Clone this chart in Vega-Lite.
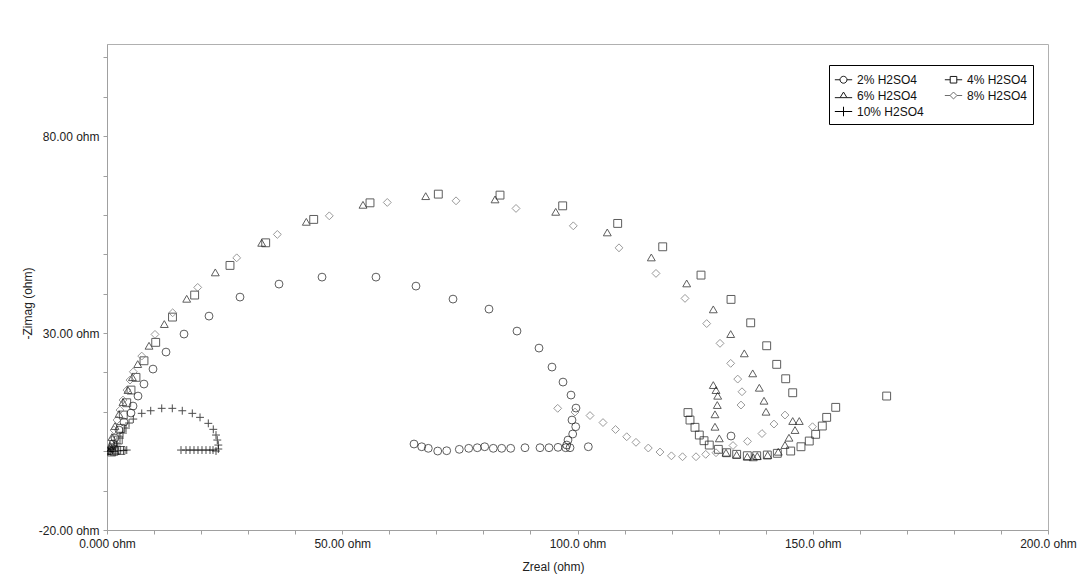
{
  "$schema": "https://vega.github.io/schema/vega-lite/v6.json",
  "width": 941,
  "height": 486,
  "autosize": "none",
  "padding": {"left": 107, "top": 44, "right": 29, "bottom": 44},
  "background": "white",
  "config": {
    "font": "Liberation Sans",
    "view": {"stroke": "#b0b0b0", "strokeWidth": 1}
  },
  "datasets": {
    "pts": [
      {"series":"2% H2SO4","zreal":0.6,"zimag":0.2},{"series":"2% H2SO4","zreal":1.06,"zimag":0.81},{"series":"2% H2SO4","zreal":1.28,"zimag":1.83},{"series":"2% H2SO4","zreal":1.70,"zimag":3.35},{"series":"2% H2SO4","zreal":2.55,"zimag":5.38},{"series":"2% H2SO4","zreal":3.61,"zimag":7.41},{"series":"2% H2SO4","zreal":5.10,"zimag":9.70},{"series":"2% H2SO4","zreal":5.53,"zimag":11.47},{"series":"2% H2SO4","zreal":6.59,"zimag":14.01},{"series":"2% H2SO4","zreal":7.86,"zimag":17.06},{"series":"2% H2SO4","zreal":9.78,"zimag":20.86},{"series":"2% H2SO4","zreal":12.54,"zimag":25.18},{"series":"2% H2SO4","zreal":16.37,"zimag":29.75},{"series":"2% H2SO4","zreal":21.68,"zimag":34.31},{"series":"2% H2SO4","zreal":28.27,"zimag":39.14},{"series":"2% H2SO4","zreal":36.56,"zimag":42.44},{"series":"2% H2SO4","zreal":45.70,"zimag":44.21},{"series":"2% H2SO4","zreal":57.17,"zimag":44.21},{"series":"2% H2SO4","zreal":65.67,"zimag":41.93},{"series":"2% H2SO4","zreal":73.54,"zimag":38.63},{"series":"2% H2SO4","zreal":81.19,"zimag":36.09},{"series":"2% H2SO4","zreal":87.14,"zimag":30.51},{"series":"2% H2SO4","zreal":91.82,"zimag":26.19},{"series":"2% H2SO4","zreal":94.58,"zimag":21.37},{"series":"2% H2SO4","zreal":96.92,"zimag":17.56},{"series":"2% H2SO4","zreal":98.62,"zimag":14.26},{"series":"2% H2SO4","zreal":99.68,"zimag":10.96},{"series":"2% H2SO4","zreal":98.83,"zimag":7.92},{"series":"2% H2SO4","zreal":99.62,"zimag":6.22},{"series":"2% H2SO4","zreal":98.98,"zimag":4.37},{"series":"2% H2SO4","zreal":97.98,"zimag":2.84},{"series":"2% H2SO4","zreal":97.71,"zimag":1.57},{"series":"2% H2SO4","zreal":98.41,"zimag":0.89},{"series":"2% H2SO4","zreal":97.49,"zimag":0.89},{"series":"2% H2SO4","zreal":95.86,"zimag":0.99},{"series":"2% H2SO4","zreal":93.94,"zimag":0.89},{"series":"2% H2SO4","zreal":92.03,"zimag":0.89},{"series":"2% H2SO4","zreal":88.84,"zimag":0.89},{"series":"2% H2SO4","zreal":85.80,"zimag":0.74},{"series":"2% H2SO4","zreal":83.89,"zimag":0.74},{"series":"2% H2SO4","zreal":82.10,"zimag":0.74},{"series":"2% H2SO4","zreal":80.28,"zimag":1.14},{"series":"2% H2SO4","zreal":78.70,"zimag":0.89},{"series":"2% H2SO4","zreal":76.88,"zimag":0.74},{"series":"2% H2SO4","zreal":74.88,"zimag":0.48},{"series":"2% H2SO4","zreal":72.20,"zimag":0.13},{"series":"2% H2SO4","zreal":70.29,"zimag":0.05},{"series":"2% H2SO4","zreal":68.29,"zimag":0.74},{"series":"2% H2SO4","zreal":66.89,"zimag":1.14},{"series":"2% H2SO4","zreal":65.25,"zimag":1.83},{"series":"2% H2SO4","zreal":102.30,"zimag":1.14},{"series":"2% H2SO4","zreal":132.63,"zimag":3.86},

      {"series":"4% H2SO4","zreal":1.0,"zimag":-0.2},{"series":"4% H2SO4","zreal":1.5,"zimag":0.0},{"series":"4% H2SO4","zreal":3.0,"zimag":0.2},{"series":"4% H2SO4","zreal":2.06,"zimag":0.30},{"series":"4% H2SO4","zreal":2.40,"zimag":2.84},{"series":"4% H2SO4","zreal":2.91,"zimag":5.81},{"series":"4% H2SO4","zreal":3.46,"zimag":9.19},{"series":"4% H2SO4","zreal":4.19,"zimag":12.31},{"series":"4% H2SO4","zreal":5.10,"zimag":15.53},{"series":"4% H2SO4","zreal":6.16,"zimag":18.76},{"series":"4% H2SO4","zreal":7.86,"zimag":22.97},{"series":"4% H2SO4","zreal":10.35,"zimag":27.64},{"series":"4% H2SO4","zreal":13.92,"zimag":34.06},{"series":"4% H2SO4","zreal":18.63,"zimag":39.65},{"series":"4% H2SO4","zreal":26.14,"zimag":47.18},{"series":"4% H2SO4","zreal":33.73,"zimag":52.92},{"series":"4% H2SO4","zreal":43.93,"zimag":58.86},{"series":"4% H2SO4","zreal":55.90,"zimag":63.07},{"series":"4% H2SO4","zreal":70.42,"zimag":65.28},{"series":"4% H2SO4","zreal":83.53,"zimag":65.03},{"series":"4% H2SO4","zreal":96.85,"zimag":62.31},{"series":"4% H2SO4","zreal":108.54,"zimag":57.84},{"series":"4% H2SO4","zreal":118.11,"zimag":51.91},{"series":"4% H2SO4","zreal":126.25,"zimag":44.72},{"series":"4% H2SO4","zreal":132.63,"zimag":38.55},{"series":"4% H2SO4","zreal":136.81,"zimag":32.61},{"series":"4% H2SO4","zreal":140.21,"zimag":26.78},{"series":"4% H2SO4","zreal":142.34,"zimag":22.06},{"series":"4% H2SO4","zreal":144.25,"zimag":18.40},{"series":"4% H2SO4","zreal":145.74,"zimag":14.85},{"series":"4% H2SO4","zreal":165.71,"zimag":14.01},{"series":"4% H2SO4","zreal":154.88,"zimag":11.14},{"series":"4% H2SO4","zreal":152.96,"zimag":8.60},{"series":"4% H2SO4","zreal":152.03,"zimag":6.40},{"series":"4% H2SO4","zreal":150.62,"zimag":4.29},{"series":"4% H2SO4","zreal":149.26,"zimag":2.59},{"series":"4% H2SO4","zreal":147.50,"zimag":1.14},{"series":"4% H2SO4","zreal":145.31,"zimag":0.05},{"series":"4% H2SO4","zreal":142.47,"zimag":-0.53},{"series":"4% H2SO4","zreal":140.34,"zimag":-0.96},{"series":"4% H2SO4","zreal":138.09,"zimag":-1.14},{"series":"4% H2SO4","zreal":136.09,"zimag":-1.14},{"series":"4% H2SO4","zreal":133.83,"zimag":-0.79},{"series":"4% H2SO4","zreal":131.71,"zimag":-0.38},{"series":"4% H2SO4","zreal":129.93,"zimag":0.48},{"series":"4% H2SO4","zreal":128.01,"zimag":1.57},{"series":"4% H2SO4","zreal":126.89,"zimag":2.67},{"series":"4% H2SO4","zreal":125.89,"zimag":4.11},{"series":"4% H2SO4","zreal":124.97,"zimag":6.07},{"series":"4% H2SO4","zreal":123.91,"zimag":7.92},{"series":"4% H2SO4","zreal":123.48,"zimag":9.82},

      {"series":"6% H2SO4","zreal":0.43,"zimag":0.05},{"series":"6% H2SO4","zreal":0.64,"zimag":1.32},{"series":"6% H2SO4","zreal":1.06,"zimag":3.60},{"series":"6% H2SO4","zreal":1.70,"zimag":6.40},{"series":"6% H2SO4","zreal":2.55,"zimag":9.44},{"series":"6% H2SO4","zreal":3.40,"zimag":12.49},{"series":"6% H2SO4","zreal":4.46,"zimag":15.53},{"series":"6% H2SO4","zreal":5.40,"zimag":18.80},{"series":"6% H2SO4","zreal":6.53,"zimag":22.13},{"series":"6% H2SO4","zreal":8.93,"zimag":26.78},{"series":"6% H2SO4","zreal":12.18,"zimag":32.29},{"series":"6% H2SO4","zreal":16.94,"zimag":38.71},{"series":"6% H2SO4","zreal":23.02,"zimag":45.41},{"series":"6% H2SO4","zreal":32.88,"zimag":52.92},{"series":"6% H2SO4","zreal":42.36,"zimag":58.25},{"series":"6% H2SO4","zreal":54.41,"zimag":62.57},{"series":"6% H2SO4","zreal":67.74,"zimag":64.77},{"series":"6% H2SO4","zreal":82.47,"zimag":63.94},{"series":"6% H2SO4","zreal":95.37,"zimag":60.79},{"series":"6% H2SO4","zreal":106.33,"zimag":55.56},{"series":"6% H2SO4","zreal":115.69,"zimag":49.21},{"series":"6% H2SO4","zreal":123.21,"zimag":42.61},{"series":"6% H2SO4","zreal":128.86,"zimag":36.02},{"series":"6% H2SO4","zreal":132.56,"zimag":29.75},{"series":"6% H2SO4","zreal":135.45,"zimag":24.85},{"series":"6% H2SO4","zreal":137.24,"zimag":19.77},{"series":"6% H2SO4","zreal":138.64,"zimag":16.12},{"series":"6% H2SO4","zreal":139.64,"zimag":12.82},{"series":"6% H2SO4","zreal":140.07,"zimag":10.03},{"series":"6% H2SO4","zreal":128.86,"zimag":16.80},{"series":"6% H2SO4","zreal":129.44,"zimag":15.53},{"series":"6% H2SO4","zreal":129.80,"zimag":14.09},{"series":"6% H2SO4","zreal":129.71,"zimag":11.73},{"series":"6% H2SO4","zreal":129.22,"zimag":9.37},{"series":"6% H2SO4","zreal":129.22,"zimag":6.22},{"series":"6% H2SO4","zreal":130.14,"zimag":3.27},{"series":"6% H2SO4","zreal":131.56,"zimag":-0.38},{"series":"6% H2SO4","zreal":133.83,"zimag":-0.89},{"series":"6% H2SO4","zreal":136.09,"zimag":-1.40},{"series":"6% H2SO4","zreal":137.36,"zimag":-1.55},{"series":"6% H2SO4","zreal":138.21,"zimag":-1.22},{"series":"6% H2SO4","zreal":140.42,"zimag":-0.96},{"series":"6% H2SO4","zreal":142.67,"zimag":-0.13},{"series":"6% H2SO4","zreal":144.10,"zimag":1.57},{"series":"6% H2SO4","zreal":144.95,"zimag":3.43},{"series":"6% H2SO4","zreal":146.23,"zimag":5.38},{"series":"6% H2SO4","zreal":145.74,"zimag":7.67},{"series":"6% H2SO4","zreal":147.14,"zimag":7.67},

      {"series":"8% H2SO4","zreal":0.64,"zimag":0.81},{"series":"8% H2SO4","zreal":1.06,"zimag":2.84},{"series":"8% H2SO4","zreal":1.49,"zimag":5.38},{"series":"8% H2SO4","zreal":2.13,"zimag":7.92},{"series":"8% H2SO4","zreal":2.76,"zimag":10.46},{"series":"8% H2SO4","zreal":3.40,"zimag":13.0},{"series":"8% H2SO4","zreal":4.25,"zimag":15.53},{"series":"8% H2SO4","zreal":4.89,"zimag":18.07},{"series":"8% H2SO4","zreal":5.59,"zimag":20.18},{"series":"8% H2SO4","zreal":7.38,"zimag":24.16},{"series":"8% H2SO4","zreal":10.20,"zimag":29.67},{"series":"8% H2SO4","zreal":13.96,"zimag":35.15},{"series":"8% H2SO4","zreal":19.28,"zimag":41.60},{"series":"8% H2SO4","zreal":27.57,"zimag":49.11},{"series":"8% H2SO4","zreal":36.20,"zimag":55.05},{"series":"8% H2SO4","zreal":47.25,"zimag":59.77},{"series":"8% H2SO4","zreal":59.57,"zimag":63.17},{"series":"8% H2SO4","zreal":74.18,"zimag":63.58},{"series":"8% H2SO4","zreal":86.93,"zimag":61.65},{"series":"8% H2SO4","zreal":99.11,"zimag":57.23},{"series":"8% H2SO4","zreal":108.82,"zimag":51.65},{"series":"8% H2SO4","zreal":116.68,"zimag":45.15},{"series":"8% H2SO4","zreal":122.85,"zimag":38.81},{"series":"8% H2SO4","zreal":127.46,"zimag":32.41},{"series":"8% H2SO4","zreal":130.29,"zimag":27.39},{"series":"8% H2SO4","zreal":132.56,"zimag":22.31},{"series":"8% H2SO4","zreal":134.05,"zimag":18.32},{"series":"8% H2SO4","zreal":134.96,"zimag":15.10},{"series":"8% H2SO4","zreal":134.75,"zimag":11.73},{"series":"8% H2SO4","zreal":144.10,"zimag":9.19},{"series":"8% H2SO4","zreal":141.76,"zimag":6.90},{"series":"8% H2SO4","zreal":149.95,"zimag":6.22},{"series":"8% H2SO4","zreal":139.21,"zimag":4.49},{"series":"8% H2SO4","zreal":136.13,"zimag":2.51},{"series":"8% H2SO4","zreal":133.05,"zimag":1.45},{"series":"8% H2SO4","zreal":129.44,"zimag":-0.38},{"series":"8% H2SO4","zreal":127.25,"zimag":-0.79},{"series":"8% H2SO4","zreal":125.19,"zimag":-1.40},{"series":"8% H2SO4","zreal":122.32,"zimag":-1.40},{"series":"8% H2SO4","zreal":119.96,"zimag":-1.17},{"series":"8% H2SO4","zreal":117.53,"zimag":-0.20},{"series":"8% H2SO4","zreal":115.05,"zimag":0.81},{"series":"8% H2SO4","zreal":112.43,"zimag":2.26},{"series":"8% H2SO4","zreal":110.46,"zimag":3.68},{"series":"8% H2SO4","zreal":108.08,"zimag":5.51},{"series":"8% H2SO4","zreal":105.42,"zimag":7.28},{"series":"8% H2SO4","zreal":102.66,"zimag":9.06},{"series":"8% H2SO4","zreal":99.47,"zimag":9.95},{"series":"8% H2SO4","zreal":95.79,"zimag":10.89},

      {"series":"10% H2SO4","zreal":0.3,"zimag":0.0},{"series":"10% H2SO4","zreal":1.5,"zimag":-0.1},{"series":"10% H2SO4","zreal":2.5,"zimag":0.1},{"series":"10% H2SO4","zreal":3.5,"zimag":0.2},{"series":"10% H2SO4","zreal":4.2,"zimag":0.3},{"series":"10% H2SO4","zreal":0.64,"zimag":0.05},{"series":"10% H2SO4","zreal":1.06,"zimag":0.56},{"series":"10% H2SO4","zreal":1.49,"zimag":1.32},{"series":"10% H2SO4","zreal":2.13,"zimag":2.08},{"series":"10% H2SO4","zreal":2.76,"zimag":3.35},{"series":"10% H2SO4","zreal":3.40,"zimag":4.62},{"series":"10% H2SO4","zreal":4.04,"zimag":5.89},{"series":"10% H2SO4","zreal":4.68,"zimag":7.16},{"series":"10% H2SO4","zreal":5.59,"zimag":8.17},{"series":"10% H2SO4","zreal":7.38,"zimag":9.62},{"series":"10% H2SO4","zreal":9.29,"zimag":10.28},{"series":"10% H2SO4","zreal":11.63,"zimag":10.89},{"series":"10% H2SO4","zreal":13.88,"zimag":10.89},{"series":"10% H2SO4","zreal":16.00,"zimag":10.28},{"series":"10% H2SO4","zreal":18.13,"zimag":9.62},{"series":"10% H2SO4","zreal":19.77,"zimag":8.60},{"series":"10% H2SO4","zreal":21.53,"zimag":7.08},{"series":"10% H2SO4","zreal":22.59,"zimag":5.56},{"series":"10% H2SO4","zreal":23.17,"zimag":4.11},{"series":"10% H2SO4","zreal":23.44,"zimag":2.84},{"series":"10% H2SO4","zreal":23.66,"zimag":1.57},{"series":"10% H2SO4","zreal":23.66,"zimag":0.56},{"series":"10% H2SO4","zreal":23.17,"zimag":0.05},{"series":"10% H2SO4","zreal":15.73,"zimag":0.3},{"series":"10% H2SO4","zreal":16.79,"zimag":0.3},{"series":"10% H2SO4","zreal":17.64,"zimag":0.3},{"series":"10% H2SO4","zreal":18.49,"zimag":0.3},{"series":"10% H2SO4","zreal":19.34,"zimag":0.3},{"series":"10% H2SO4","zreal":20.19,"zimag":0.3},{"series":"10% H2SO4","zreal":21.04,"zimag":0.3},{"series":"10% H2SO4","zreal":21.89,"zimag":0.3},{"series":"10% H2SO4","zreal":22.53,"zimag":0.3}
    ]
  },
  "data": {"name": "pts"},
  "encoding": {
    "x": {
      "field": "zreal", "type": "quantitative",
      "scale": {"domain": [0, 200], "nice": false, "zero": false},
      "axis": {
        "title": "Zreal (ohm)",
        "values": [0,10,20,30,40,50,60,70,80,90,100,110,120,130,140,150,160,170,180,190,200],
        "labelExpr": "datum.value == 0 ? '0.000 ohm' : datum.value % 50 == 0 ? format(datum.value, '.4r') + ' ohm' : ''",
        "labelFlush": false, "labelOverlap": false,
        "grid": false, "tickSize": 4, "tickColor": "#a0a0a0", "domainColor": "#a0a0a0",
        "labelFont": "Liberation Sans", "labelFontSize": 12, "labelColor": "#222222", "labelPadding": 4,
        "titleFont": "Liberation Sans", "titleFontSize": 12, "titleFontWeight": "normal", "titleColor": "#222222",
        "titleX": 446, "titleY": 36, "titleBaseline": "middle", "titleAnchor": null, "titleAlign": "center"
      }
    },
    "y": {
      "field": "zimag", "type": "quantitative",
      "scale": {"domain": [-20, 103.4], "nice": false, "zero": false},
      "axis": {
        "title": "-Zimag (ohm)",
        "values": [-20,-10,0,10,20,30,40,50,60,70,80,90,100],
        "labelExpr": "(datum.value + 20) % 50 == 0 ? replace(format(datum.value, '.2f'), '\u2212', '-') + ' ohm' : ''",
        "labelFlush": false, "labelOverlap": false,
        "grid": false, "tickSize": 4, "tickColor": "#a0a0a0", "domainColor": "#a0a0a0",
        "labelFont": "Liberation Sans", "labelFontSize": 12, "labelColor": "#222222", "labelPadding": 4,
        "titleFont": "Liberation Sans", "titleFontSize": 12, "titleFontWeight": "normal", "titleColor": "#222222",
        "titleX": -80, "titleY": 259, "titleAngle": 270, "titleBaseline": "middle", "titleAlign": "center", "titleAnchor": null
      }
    }
  },
  "layer": [
    {
      "mark": {"type": "point", "filled": false, "strokeWidth": 1, "size": 62, "clip": true},
      "encoding": {
        "shape": {
          "field": "series", "type": "nominal",
          "scale": {
            "domain": ["10% H2SO4", "2% H2SO4", "4% H2SO4", "6% H2SO4", "8% H2SO4"],
            "range": ["M-1,0L1,0M0,-1L0,1", "circle", "square", "triangle-up", "diamond"]
          },
          "legend": null
        },
        "stroke": {
          "field": "series", "type": "nominal",
          "scale": {
            "domain": ["10% H2SO4", "2% H2SO4", "4% H2SO4", "6% H2SO4", "8% H2SO4"],
            "range": ["#000000", "#1a1a1a", "#1a1a1a", "#1a1a1a", "#6e6e6e"]
          },
          "legend": null
        }
      }
    },
    {
      "mark": {
        "type": "point", "filled": false, "opacity": 0, "clip": true,
        "shape": {"expr": "datum.value === '2% H2SO4' ? 'M-1,0L-0.4,0M0.4,0L1,0M-0.4,0A0.4,0.4,0,1,1,0.4,0A0.4,0.4,0,1,1,-0.4,0' : datum.value === '4% H2SO4' ? 'M-1,0L-0.38,0M0.38,0L1,0M-0.38,-0.38L0.38,-0.38L0.38,0.38L-0.38,0.38Z' : datum.value === '6% H2SO4' ? 'M-1,0.25L-0.4,0.25M0.4,0.25L1,0.25M-0.4,0.25L0,-0.4L0.4,0.25Z' : datum.value === '8% H2SO4' ? 'M-1,0L-0.4,0M0.4,0L1,0M-0.4,0L0,-0.4L0.4,0L0,0.4Z' : 'M-1,0L1,0M0,-0.55L0,0.55'"}
      },
      "encoding": {
        "color": {
          "field": "series", "type": "nominal",
          "scale": {
            "domain": ["2% H2SO4", "4% H2SO4", "6% H2SO4", "8% H2SO4", "10% H2SO4"],
            "range": ["#1a1a1a", "#1a1a1a", "#1a1a1a", "#6e6e6e", "#000000"]
          },
          "legend": {
            "title": null,
            "orient": "none",
            "legendX": 722,
            "legendY": 21,
            "direction": "horizontal",
            "columns": 2,
            "columnPadding": 18,
            "rowPadding": -3,
            "padding": 5,
            "strokeColor": "#000000",
            "fillColor": "#ffffff",
            "labelFont": "Liberation Sans",
            "labelFontSize": 12,
            "labelColor": "#111111",
            "labelOffset": 4,
            "symbolSize": 300,
            "symbolStrokeWidth": 1,
            "symbolOpacity": 1,
            "encode": {
              "legend": {"strokeWidth": {"value": 2}},
              "symbols": {
                "opacity": {"value": 1},
                "fill": {"value": "transparent"},
                "strokeWidth": {"value": 1}
              }
            }
          }
        }
      }
    }
  ]
}
